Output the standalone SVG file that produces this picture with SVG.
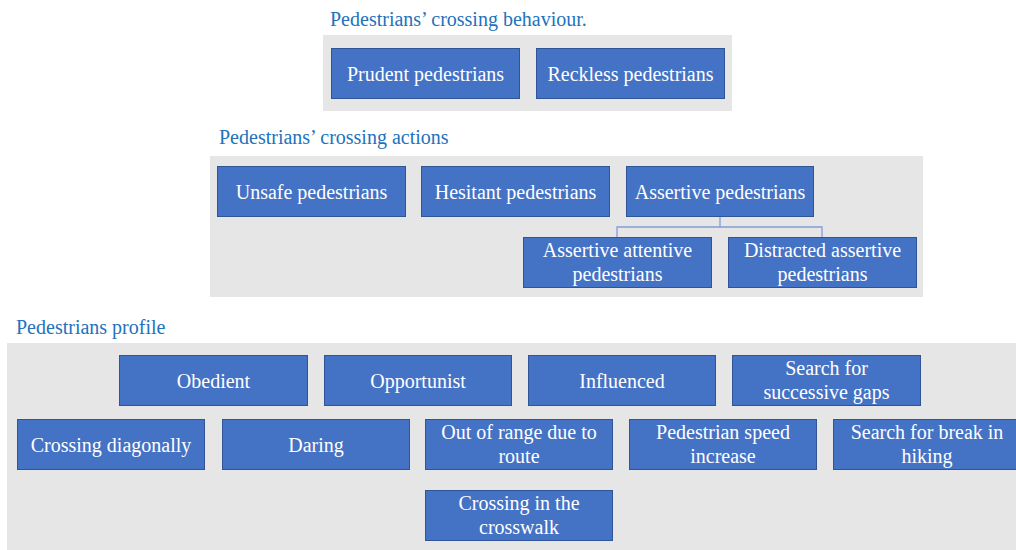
<svg xmlns="http://www.w3.org/2000/svg" width="1016" height="550" viewBox="0 0 1016 550">
<style>
.panel{fill:#e7e6e6}
.box{fill:#4472c4;stroke:#2f5597;stroke-width:1}
.t{font-family:'Liberation Serif',Tinos,'Times New Roman',Times,'Noto Serif','DejaVu Serif',serif;font-size:20px;fill:#ffffff;text-anchor:middle}
.h{font-family:'Liberation Serif',Tinos,'Times New Roman',Times,'Noto Serif','DejaVu Serif',serif;font-size:20px;fill:#2272bd}
.c{fill:none;stroke:#7f9fd6;stroke-width:1.3}
</style>
<rect width="1016" height="550" fill="#ffffff"/>
<g id="panel-behaviour">
<rect class="panel" x="323" y="35" width="409" height="76"/>
<text class="h" x="330" y="26">Pedestrians’ crossing behaviour.</text>
</g>
<g id="panel-actions">
<rect class="panel" x="210" y="156" width="713" height="141"/>
<text class="h" x="219" y="144">Pedestrians’ crossing actions</text>
</g>
<g id="panel-profile">
<rect class="panel" x="7" y="343" width="1009" height="207"/>
<text class="h" x="16" y="334">Pedestrians profile</text>
</g>
<g id="connectors">
<path class="c" d="M720 216 V227 M617 237 V227 H822 V237"/>
</g>
<g id="prudent"><rect class="box" x="331.5" y="48.5" width="188" height="50"/><text class="t" x="425.5" y="80.5">Prudent pedestrians</text></g>
<g id="reckless"><rect class="box" x="536.5" y="48.5" width="188" height="50"/><text class="t" x="630.5" y="80.5">Reckless pedestrians</text></g>
<g id="unsafe"><rect class="box" x="217.5" y="166.5" width="188" height="50"/><text class="t" x="311.5" y="198.5">Unsafe pedestrians</text></g>
<g id="hesitant"><rect class="box" x="421.5" y="166.5" width="188" height="50"/><text class="t" x="515.5" y="198.5">Hesitant pedestrians</text></g>
<g id="assertive"><rect class="box" x="626.5" y="166.5" width="187" height="50"/><text class="t" x="720" y="198.5">Assertive pedestrians</text></g>
<g id="assertive-attentive"><rect class="box" x="523.5" y="237.5" width="188" height="50"/><text class="t" x="617.5" y="257">Assertive attentive</text><text class="t" x="617.5" y="280.5">pedestrians</text></g>
<g id="distracted-assertive"><rect class="box" x="728.5" y="237.5" width="188" height="50"/><text class="t" x="822.5" y="257">Distracted assertive</text><text class="t" x="822.5" y="280.5">pedestrians</text></g>
<g id="obedient"><rect class="box" x="119.5" y="355.5" width="188" height="50"/><text class="t" x="213.5" y="387.5">Obedient</text></g>
<g id="opportunist"><rect class="box" x="324.5" y="355.5" width="187" height="50"/><text class="t" x="418" y="387.5">Opportunist</text></g>
<g id="influenced"><rect class="box" x="528.5" y="355.5" width="187" height="50"/><text class="t" x="622" y="387.5">Influenced</text></g>
<g id="search-gaps"><rect class="box" x="732.5" y="355.5" width="188" height="50"/><text class="t" x="826.5" y="375">Search for</text><text class="t" x="826.5" y="398.5">successive gaps</text></g>
<g id="crossing-diagonally"><rect class="box" x="17.5" y="419.5" width="187" height="50"/><text class="t" x="111" y="451.5">Crossing diagonally</text></g>
<g id="daring"><rect class="box" x="222.5" y="419.5" width="187" height="50"/><text class="t" x="316" y="451.5">Daring</text></g>
<g id="out-of-range"><rect class="box" x="425.5" y="419.5" width="187" height="50"/><text class="t" x="519" y="439">Out of range due to</text><text class="t" x="519" y="462.5">route</text></g>
<g id="speed-increase"><rect class="box" x="629.5" y="419.5" width="187" height="50"/><text class="t" x="723" y="439">Pedestrian speed</text><text class="t" x="723" y="462.5">increase</text></g>
<g id="search-break"><rect class="box" x="833.5" y="419.5" width="188" height="50"/><text class="t" x="927" y="439">Search for break in</text><text class="t" x="927" y="462.5">hiking</text></g>
<g id="crosswalk"><rect class="box" x="425.5" y="490.5" width="187" height="50"/><text class="t" x="519" y="510">Crossing in the</text><text class="t" x="519" y="533.5">crosswalk</text></g>
</svg>
